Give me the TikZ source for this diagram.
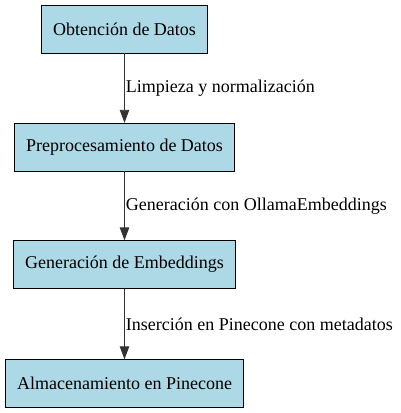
\documentclass[tikz,border=0pt]{standalone}
\usepackage{fontspec}
\setmainfont{Liberation Serif}
\usepackage{xcolor}
\usepackage{tikz}
\usetikzlibrary{positioning}
\usetikzlibrary{arrows.meta}
\definecolor{lightblue}{HTML}{ADD8E6}
\tikzstyle{etapa}=[rectangle,draw=black,fill=lightblue,text=black,minimum height=48pt,inner xsep=11.5pt,font=\rmfamily\fontsize{18}{21}\selectfont]
\tikzstyle{flujo} = [draw,line width=0.9pt,black!80,-{Triangle[length=13pt,width=9.5pt]}]
\tikzstyle{etiqueta} = [right,inner sep=1pt,text=black,font=\rmfamily\fontsize{18}{21}\selectfont]

\begin{document}
\begin{tikzpicture}[x=1pt,y=-1pt]

  \useasboundingbox (0,0) rectangle (400,413);
  \def\cx{124.5};

   \foreach \y/\name/\label in {29/datos/Obtención de Datos, 147/prep/Preprocesamiento de Datos, 264.5/emb/Generación de Embeddings, 383.5/pine/Almacenamiento en Pinecone}
          \node[etapa] (\name) at (\cx, \y) {\label};

  \foreach \source/ \dest /\weight in {datos/prep/Limpieza y normalización, prep/emb/Generación con OllamaEmbeddings, emb/pine/Inserción en Pinecone con metadatos}
         \path[flujo] (\source) -- node[etiqueta] {\weight} (\dest);

\end{tikzpicture}
\end{document}
